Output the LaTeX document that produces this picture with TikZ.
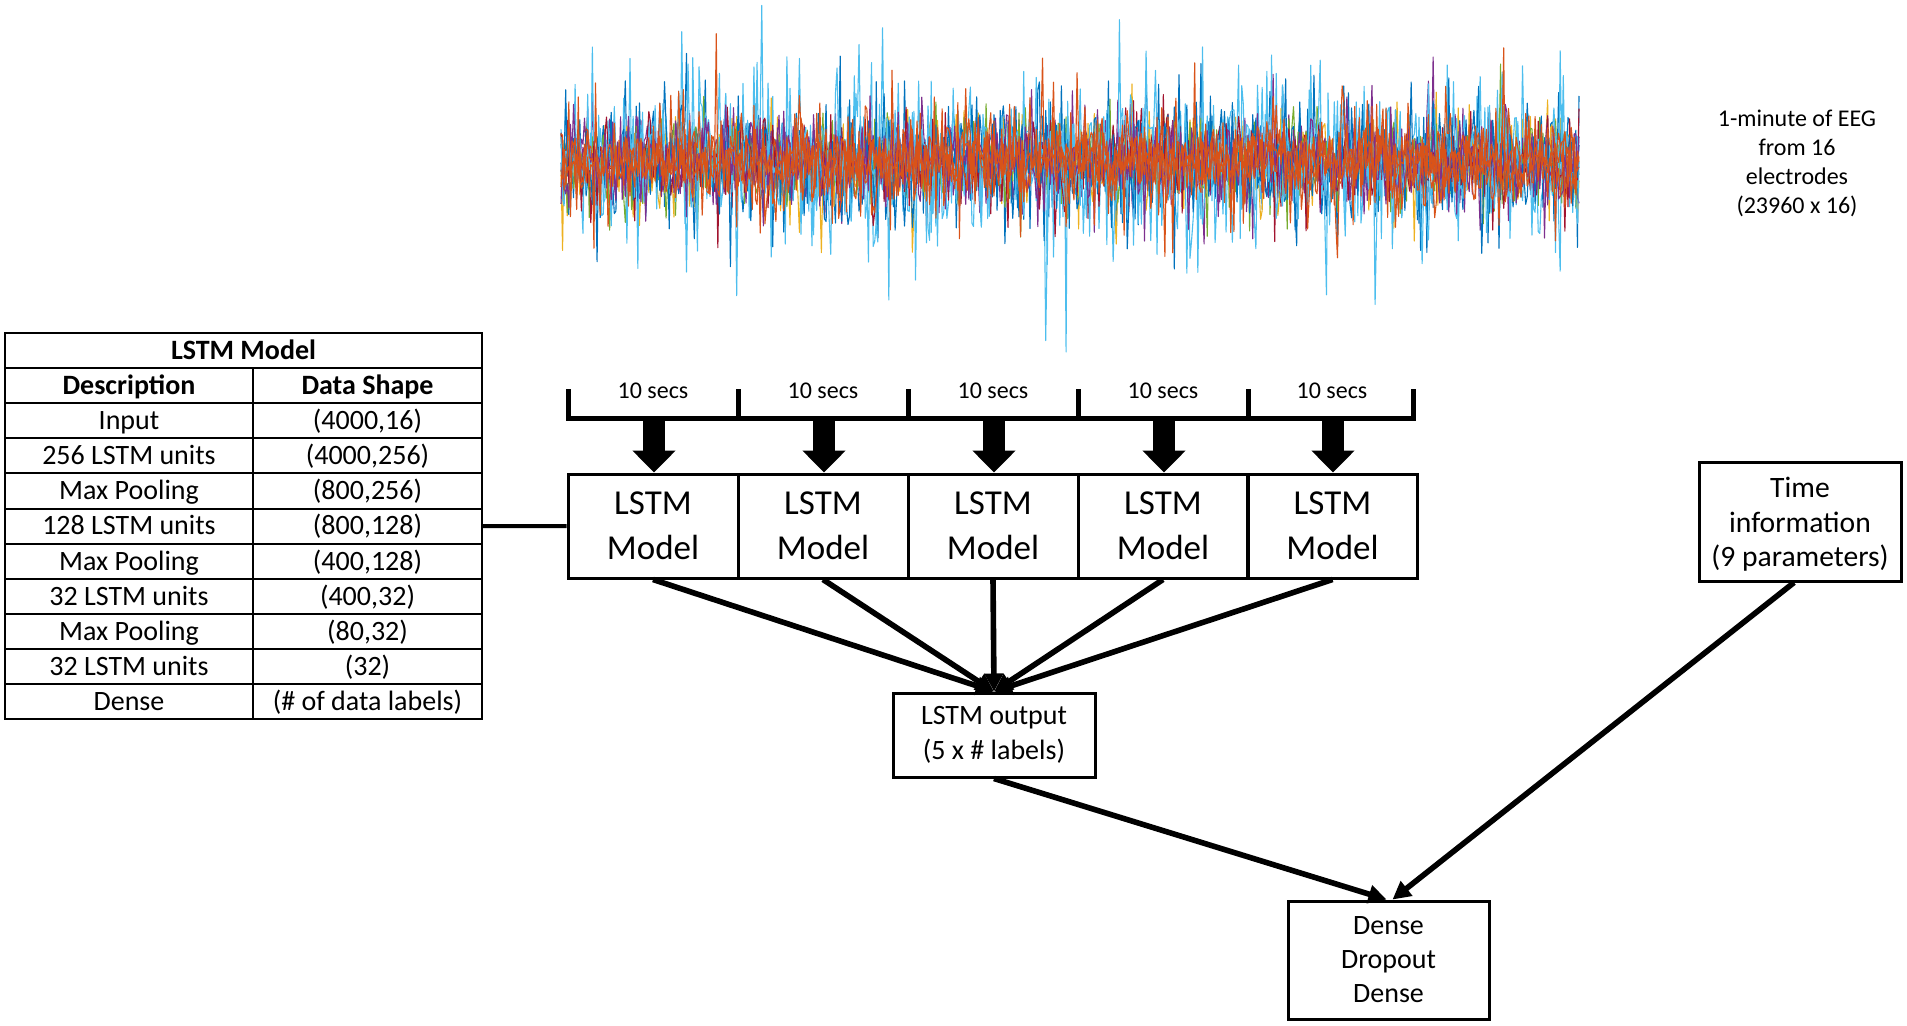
\documentclass[tikz,border=0pt]{standalone}
\usepackage{fontspec}
\setmainfont{Carlito}
\usetikzlibrary{arrows.meta}
\definecolor{eegblue}{rgb}{0,0.447,0.741}
\definecolor{eegorange}{rgb}{0.85,0.325,0.098}
\definecolor{eegyellow}{rgb}{0.929,0.694,0.125}
\definecolor{eegpurple}{rgb}{0.494,0.184,0.556}
\definecolor{eeggreen}{rgb}{0.466,0.674,0.188}
\definecolor{eeglblue}{rgb}{0.301,0.745,0.933}
\definecolor{eegdred}{rgb}{0.635,0.078,0.184}
\begin{document}
\begin{tikzpicture}[x=0.5pt,y=-0.5pt,
  cell/.style={draw, line width=1pt, minimum height=17.55pt, inner sep=0pt,
    text height=8.9pt, text depth=0pt, font=\fontsize{14}{16}\selectfont},
  cella/.style={cell, minimum width=124pt},
  cellb/.style={cell, minimum width=114.5pt},
  boldcell/.style={font=\fontsize{14}{16}\selectfont\bfseries},
  lstmbox/.style={draw, line width=1.5pt, minimum width=85pt, minimum height=52pt,
    inner sep=0pt, align=center, font=\fontsize{17.5}{22.5}\selectfont},
  plainbox/.style={draw, line width=1.5pt, inner sep=0pt, align=center,
    font=\fontsize{14}{17.5}\selectfont},
  seclabel/.style={font=\fontsize{12}{14}\selectfont, inner sep=0pt},
  bracketline/.style={line width=2.5pt},
  blockarrow/.style={line width=11pt, -{Triangle[width=21pt,length=11pt]}},
  flowarrow/.style={line width=2.8pt, -{Triangle[width=9pt,length=9pt]}},
  eeg/.style={line width=0.55pt, line join=round}
]
\useasboundingbox (0,0) rectangle (1907,1025);

% ---------- EEG signal ----------
\begin{scope}
\clip (555,2) rectangle (1585,405);
\pgfmathsetseed{11}
\foreach \ecol/\eamp/\espk in {eegblue/23/110, eegyellow/20/90, eegpurple/20/80,
  eeggreen/19/80, eeglblue/22/190, eegdred/20/80, eegblue/22/110, eeglblue/20/150,
  eegpurple/19/70, eegorange/17/140, eegorange/14/60, eegorange/12/40} {
  \draw[eeg, color=\ecol] plot[domain=561:1579, samples=650, variable=\t]
    (\t, {161 + \eamp*(rand+rand+rand) + \espk*rand*rand*rand});
}
\end{scope}

\node[align=center, font=\fontsize{12}{14.5}\selectfont] (eegtxt) at (1797,163)
  {1-minute of EEG\\from 16\\electrodes\\(23960 x 16)};

% ---------- Table ----------
\node[cell, boldcell, minimum width=238.5pt] (ttitle) at (243.5,350.55) {LSTM Model};
\node[cella, boldcell] (th1) at (129,385.65) {Description};
\node[cellb, boldcell] (th2) at (367.5,385.65) {Data Shape};
\node[cella] (t1a) at (129,420.75) {Input};
\node[cellb] (t1b) at (367.5,420.75) {(4000,16)};
\node[cella] (t2a) at (129,455.85) {256 LSTM units};
\node[cellb] (t2b) at (367.5,455.85) {(4000,256)};
\node[cella] (t3a) at (129,490.95) {Max Pooling};
\node[cellb] (t3b) at (367.5,490.95) {(800,256)};
\node[cella] (t4a) at (129,526.05) {128 LSTM units};
\node[cellb] (t4b) at (367.5,526.05) {(800,128)};
\node[cella] (t5a) at (129,561.15) {Max Pooling};
\node[cellb] (t5b) at (367.5,561.15) {(400,128)};
\node[cella] (t6a) at (129,596.25) {32 LSTM units};
\node[cellb] (t6b) at (367.5,596.25) {(400,32)};
\node[cella] (t7a) at (129,631.35) {Max Pooling};
\node[cellb] (t7b) at (367.5,631.35) {(80,32)};
\node[cella] (t8a) at (129,666.45) {32 LSTM units};
\node[cellb] (t8b) at (367.5,666.45) {(32)};
\node[cella] (t9a) at (129,701.55) {Dense};
\node[cellb] (t9b) at (367.5,701.55) {(\# of data labels)};

% ---------- LSTM model boxes ----------
\node[lstmbox] (m1) at (653,526) {LSTM\\Model};
\node[lstmbox] (m2) at (823,526) {LSTM\\Model};
\node[lstmbox] (m3) at (993,526) {LSTM\\Model};
\node[lstmbox] (m4) at (1163,526) {LSTM\\Model};
\node[lstmbox] (m5) at (1332.5,526) {LSTM\\Model};

\draw[line width=2pt] (t4b.east) -- (m1.west);

% ---------- 10 secs bracket ----------
\coordinate (k0) at (568,389);
\coordinate (k1) at (738,389);
\coordinate (k2) at (908,389);
\coordinate (k3) at (1078,389);
\coordinate (k4) at (1248,389);
\coordinate (k5) at (1413,389);
\draw[bracketline] (k0) -- ([yshift=-1.25pt]k0 |- 0,416) -- ([yshift=-1.25pt]k5 |- 0,416) -- (k5);
\foreach \i in {1,...,4} { \draw[bracketline] (k\i) -- (k\i |- 0,416); }

\node[seclabel] (s1) at (653,391) {10 secs};
\node[seclabel] (s2) at (823,391) {10 secs};
\node[seclabel] (s3) at (993,391) {10 secs};
\node[seclabel] (s4) at (1163,391) {10 secs};
\node[seclabel] (s5) at (1332,391) {10 secs};

\coordinate (b1) at (654,416);
\coordinate (b2) at (824,416);
\coordinate (b3) at (994,416);
\coordinate (b4) at (1164,416);
\coordinate (b5) at (1333,416);
\foreach \i in {1,...,5} { \draw[blockarrow] (b\i) -- (b\i |- m\i.north); }

% ---------- Output, time, dense ----------
\node[plainbox, minimum width=101pt, minimum height=42pt] (out) at (994,735) {LSTM output\\(5 x \# labels)};
\node[plainbox, minimum width=101pt, minimum height=59.5pt] (time) at (1800,521.5) {};
\node[align=center, inner sep=0pt, font=\fontsize{14.8}{17.3}\selectfont] (timetxt) at (1800,524.5) {Time\\information\\(9 parameters)};
\node[plainbox, minimum width=100.5pt, minimum height=59pt, font=\fontsize{14}{17}\selectfont] (dense) at (1388.5,960) {Dense\\Dropout\\Dense};

\foreach \i in {1,...,5} { \draw[flowarrow] (m\i.south) -- (out.north); }
\draw[flowarrow] (out.south) -- ([xshift=-1pt]dense.north);
\draw[flowarrow] ([xshift=-3pt]time.south) -- ([xshift=2pt]dense.north);
\end{tikzpicture}
\end{document}
